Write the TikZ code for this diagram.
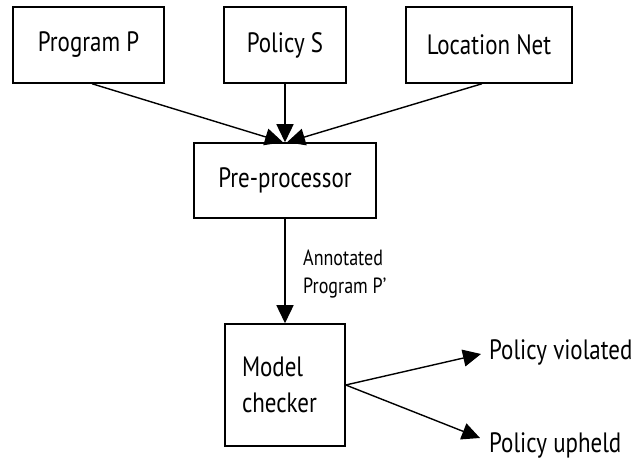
\documentclass[tikz,border=0pt]{standalone}
\usepackage{fontspec}
\setmainfont{PT Sans}[FakeStretch=0.82]
\usetikzlibrary{arrows.meta,calc}
\begin{document}
\begin{tikzpicture}[x=1pt,y=-1pt,
  box/.style={draw,line width=1.5pt,rectangle,inner sep=0pt,font=\fontsize{28}{36}\selectfont},
  lbl/.style={inner sep=0pt,font=\fontsize{28}{30}\selectfont,anchor=west},
  arr/.style={line width=1.4pt,-{Triangle[length=18pt,width=17pt]}},
  ann/.style={inner sep=0pt,font=\fontsize{22}{28}\selectfont,align=left,anchor=west}]
\useasboundingbox (0,0) rectangle (633,465);
\node[box,minimum width=151pt,minimum height=76pt] (prog) at (88.5,45) {Program P};
\node[box,minimum width=122pt,minimum height=76pt] (pol) at (285,45) {Policy S};
\node[box,minimum width=166pt,minimum height=76pt] (loc) at (489,45) {Location Net};
\node[box,minimum width=182pt,minimum height=75pt] (pre) at (285,180.5) {Pre-processor};
\node[box,minimum width=120pt,minimum height=122pt,align=left,text width=86pt] (mc) at (285,385) {Model\\checker};
\node[lbl] (viol) at (489,352) {Policy violated};
\node[lbl] (uph) at (489,445) {Policy upheld};
\node[ann] (annot) at (303,274) {Annotated\\Program P'};
\coordinate (tv) at (481,354);
\coordinate (tu) at (480,438);
\draw[arr] ($(prog.south)+(3.5,0)$) -- ($(pre.north)+(-2,0)$);
\draw[arr] (pol.south) -- (pre.north);
\draw[arr] ($(loc.south)+(-7,0)$) -- ($(pre.north)+(2,0)$);
\draw[arr] (pre.south) -- (mc.north);
\draw[arr] (mc.east) -- (tv);
\draw[arr] (mc.east) -- (tu);
\end{tikzpicture}
\end{document}
